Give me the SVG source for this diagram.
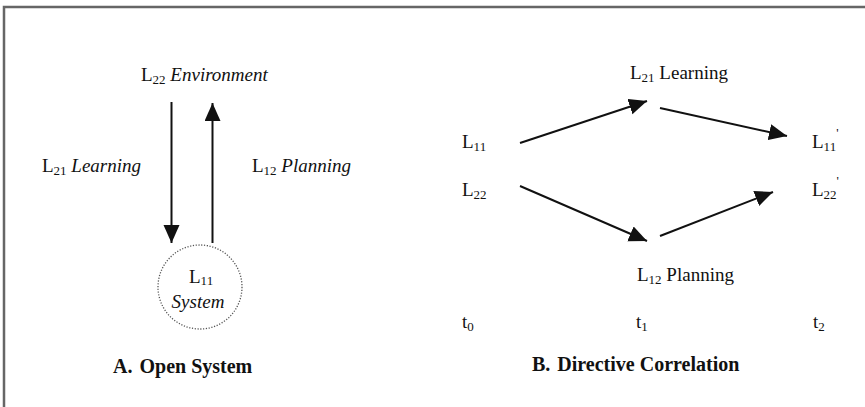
<svg xmlns="http://www.w3.org/2000/svg" width="865" height="407" viewBox="0 0 865 407">
<style>
text{font-family:"Liberation Serif","Times New Roman",serif;font-size:19px;fill:#111}
.it{font-style:italic}
.b{font-weight:bold;font-size:20px}
.sub{font-size:13px;font-style:normal}
.conn line{stroke:#111;stroke-width:2;fill:none}
</style>
<defs>
<marker id="ah" markerUnits="userSpaceOnUse" markerWidth="19" markerHeight="17" refX="18" refY="8" orient="auto">
<path d="M0,0 L18,8 L0,16 z" fill="#111"/>
</marker>
</defs>
<rect width="865" height="407" fill="#fff"/>
<g id="frame">
<path d="M4,407 L4,7 L865,7" fill="none" stroke="#666" stroke-width="2.5"/>
</g>
<g id="environment"><text x="141" y="81">L<tspan class="sub" dy="3">22</tspan><tspan dy="-3" class="it"> Environment</tspan></text></g>
<g id="system">
<circle cx="200" cy="287" r="42" fill="none" stroke="#555" stroke-width="1.3" stroke-dasharray="1.2,1.6"/>
<text x="189" y="283">L<tspan class="sub" dy="2">11</tspan></text>
<text x="198" y="308" class="it" text-anchor="middle">System</text>
</g>
<g id="label-learning-a"><text x="42" y="172">L<tspan class="sub" dy="3">21</tspan><tspan dy="-3" class="it"> Learning</tspan></text></g>
<g id="label-planning-a"><text x="252" y="172">L<tspan class="sub" dy="3">12</tspan><tspan dy="-3" class="it"> Planning</tspan></text></g>
<g id="title-a"><text x="113" y="373" class="b">A.<tspan dx="7">Open System</tspan></text></g>
<g id="b-l11"><text x="462" y="148">L<tspan class="sub" dy="3">11</tspan></text></g>
<g id="b-l22"><text x="462" y="196">L<tspan class="sub" dy="3">22</tspan></text></g>
<g id="b-learning"><text x="630" y="79">L<tspan class="sub" dy="3">21</tspan><tspan dy="-3"> Learning</tspan></text></g>
<g id="b-planning"><text x="637" y="281">L<tspan class="sub" dy="3">12</tspan><tspan dy="-3"> Planning</tspan></text></g>
<g id="b-l11p"><text x="812" y="148">L<tspan class="sub" dy="3">11</tspan><tspan class="sub" dy="-14" font-size="10">'</tspan></text></g>
<g id="b-l22p"><text x="812" y="196">L<tspan class="sub" dy="3">22</tspan><tspan class="sub" dy="-14" font-size="10">'</tspan></text></g>
<g id="b-t0"><text x="462" y="328">t<tspan class="sub" dy="3">0</tspan></text></g>
<g id="b-t1"><text x="636" y="328">t<tspan class="sub" dy="3">1</tspan></text></g>
<g id="b-t2"><text x="813" y="328">t<tspan class="sub" dy="3">2</tspan></text></g>
<g id="title-b"><text x="532" y="371" class="b">B.<tspan dx="7">Directive Correlation</tspan></text></g>
<g id="connectors" class="conn">
<line x1="171.5" y1="102" x2="171.5" y2="243" marker-end="url(#ah)"/>
<line x1="212.5" y1="243" x2="212.5" y2="103" marker-end="url(#ah)"/>
<line x1="520" y1="143" x2="647" y2="101" marker-end="url(#ah)"/>
<line x1="660" y1="108" x2="787" y2="136" marker-end="url(#ah)"/>
<line x1="520" y1="186" x2="647" y2="241" marker-end="url(#ah)"/>
<line x1="660" y1="236" x2="773" y2="192" marker-end="url(#ah)"/>
</g>
</svg>
